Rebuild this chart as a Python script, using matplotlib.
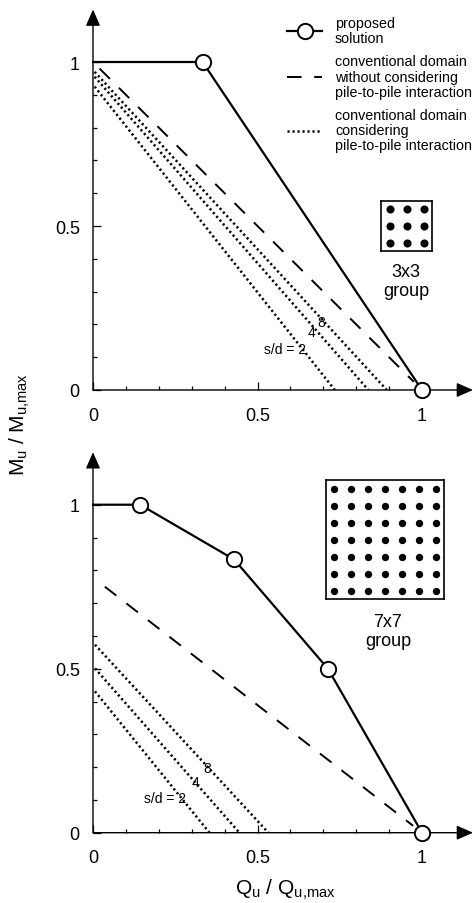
import numpy as np
import matplotlib
matplotlib.use("Agg")
import matplotlib.pyplot as plt
from matplotlib.lines import Line2D
from matplotlib.ticker import FixedLocator

plt.rcParams['font.family'] = ['Liberation Sans', 'DejaVu Sans']
plt.rcParams['mathtext.default'] = 'regular'

# ---------------- data ----------------
# 3x3 group (top panel)
top_prop_x = [0.0, 0.333, 1.0]
top_prop_y = [1.0, 1.0, 0.0]
top_dash_x = [0.02, 0.975]
top_dash_y = [0.98, 0.025]
top_dot_x = {"2": [0.005, 0.735], "4": [0.005, 0.837], "8": [0.005, 0.893]}
top_dot_y = {"2": [0.925, 0.0], "4": [0.955, 0.0], "8": [0.97, 0.0]}
top_lab_x = {"2": 0.648, "4": 0.675, "8": 0.705}
top_lab_y = {"2": 0.125, "4": 0.177, "8": 0.207}

# 7x7 group (bottom panel)
bot_prop_x = [0.0, 0.143, 0.429, 0.714, 1.0]
bot_prop_y = [1.0, 1.0, 0.833, 0.5, 0.0]
bot_dash_x = [0.036, 0.973]
bot_dash_y = [0.75, 0.021]
bot_dot_x = {"2": [0.006, 0.354], "4": [0.006, 0.445], "8": [0.006, 0.533]}
bot_dot_y = {"2": [0.431, 0.0], "4": [0.501, 0.0], "8": [0.573, 0.0]}
bot_lab_x = {"2": 0.282, "4": 0.322, "8": 0.36}
bot_lab_y = {"2": 0.105, "4": 0.155, "8": 0.197}

major_ticks = [0, 0.5, 1]
major_labels = ["0", "0.5", "1"]
minor_ticks = [0.1, 0.2, 0.3, 0.4, 0.6, 0.7, 0.8, 0.9]

legend_labels = ["proposed\nsolution",
                 "conventional domain\nwithout considering\npile-to-pile interaction",
                 "conventional domain\nconsidering\npile-to-pile interaction"]

W, H = 476, 904
fig = plt.figure(figsize=(W / 100, H / 100), dpi=100)

def fr(x0, y0_top, w, h):
    # pixel box -> figure fraction
    return [x0 / W, 1 - (y0_top + h) / H, w / W, h / H]

XMAX, YMAX = 1.155, 1.16
ax1 = fig.add_axes(fr(93, 391 - 328 * YMAX, 329 * XMAX, 328 * YMAX))
ax2 = fig.add_axes(fr(93, 833.7 - 328 * YMAX, 329 * XMAX, 328 * YMAX))

dot_style = dict(color='k', lw=1.8, linestyle=(0, (0.85, 1.15)))
dash_style = dict(color='k', lw=1.4, dashes=(7.5, 6.5))
prop_style = dict(color='k', lw=1.6, marker='o', ms=11, mfc='white', mec='k', mew=1.4)

def setup(ax):
    ax.set_xlim(0, XMAX)
    ax.set_ylim(0, YMAX)
    for s in ax.spines.values():
        s.set_visible(False)
    ax.xaxis.set_major_locator(FixedLocator(major_ticks))
    ax.yaxis.set_major_locator(FixedLocator(major_ticks))
    ax.xaxis.set_minor_locator(FixedLocator(minor_ticks))
    ax.yaxis.set_minor_locator(FixedLocator(minor_ticks))
    ax.set_xticklabels(major_labels)
    ax.set_yticklabels(major_labels)
    ax.tick_params(which='both', direction='in', width=0.9, color='k', labelsize=13)
    ax.tick_params(which='major', length=5.8)
    ax.tick_params(which='minor', length=3.0)
    ax.tick_params(axis='x', which='major', pad=12)
    ax.tick_params(axis='y', which='major', pad=9.5)
    arr = dict(arrowstyle='-|>,head_length=0.5,head_width=0.22', color='k',
               lw=1.0, shrinkA=0, shrinkB=0, mutation_scale=20)
    ax.annotate('', xy=(1, 0), xycoords='axes fraction', xytext=(0, 0),
                textcoords='axes fraction', arrowprops=arr, zorder=1)
    ax.annotate('', xy=(0, 1), xycoords='axes fraction', xytext=(0, 0),
                textcoords='axes fraction', arrowprops=arr, zorder=1)

for ax in (ax1, ax2):
    setup(ax)

# top panel
ax1.plot(top_prop_x, top_prop_y, markevery=[1, 2], clip_on=False, zorder=5, **prop_style)
ax1.plot(top_dash_x, top_dash_y, **dash_style)
for k in top_dot_x:
    ax1.plot(top_dot_x[k], top_dot_y[k], **dot_style)
    ax1.text(top_lab_x[k], top_lab_y[k], ("s/d = " + k) if k == "2" else k,
             fontsize=10, ha='right', va='center')

# bottom panel
ax2.plot(bot_prop_x, bot_prop_y, markevery=[1, 2, 3, 4], clip_on=False, zorder=5, **prop_style)
ax2.plot(bot_dash_x, bot_dash_y, **dash_style)
for k in bot_dot_x:
    ax2.plot(bot_dot_x[k], bot_dot_y[k], **dot_style)
    ax2.text(bot_lab_x[k], bot_lab_y[k], ("s/d = " + k) if k == "2" else k,
             fontsize=10, ha='right', va='center')

# legend
handles = [Line2D([], [], **prop_style),
           Line2D([], [], **dash_style),
           Line2D([], [], **dot_style)]
leg = ax1.legend(handles, legend_labels, loc='upper left',
                 bbox_to_anchor=(287 / W, 1 - 17 / H), bbox_transform=fig.transFigure,
                 frameon=False, fontsize=10.3, handlelength=2.45, handletextpad=0.9,
                 labelspacing=0.62, borderpad=0, borderaxespad=0)
for t in leg.get_texts():
    t.set_linespacing(1.12)

# pile group icons
def icon(box, n, s, label, tx, ty):
    a = fig.add_axes(fr(*box))
    g = np.arange(n)
    gx, gy = np.meshgrid(g, g)
    a.scatter(gx.ravel(), gy.ravel(), s=s, color='k', linewidths=0)
    a.set_xlim(-0.5, n - 0.5)
    a.set_ylim(-0.5, n - 0.5)
    a.set_xticks([])
    a.set_yticks([])
    for sp in a.spines.values():
        sp.set_linewidth(1.2)
    fig.text(tx / W, 1 - ty / H, label, fontsize=13, ha='center', va='center',
             linespacing=1.15)

icon((381, 202, 51, 50), 3, 34, "3x3\ngroup", 406, 282)
icon((325.7, 481, 118.6, 119), 7, 28, "7x7\ngroup", 388, 632)

# axis labels
fig.text(20 / W, 1 - 425 / H, "M$_{u}$ / M$_{u{,}max}$", rotation=90, fontsize=15,
         ha='center', va='center')
fig.text(285 / W, 1 - 890 / H, "Q$_{u}$ / Q$_{u{,}max}$", fontsize=15,
         ha='center', va='center')

fig.savefig("out.png", dpi=100)
